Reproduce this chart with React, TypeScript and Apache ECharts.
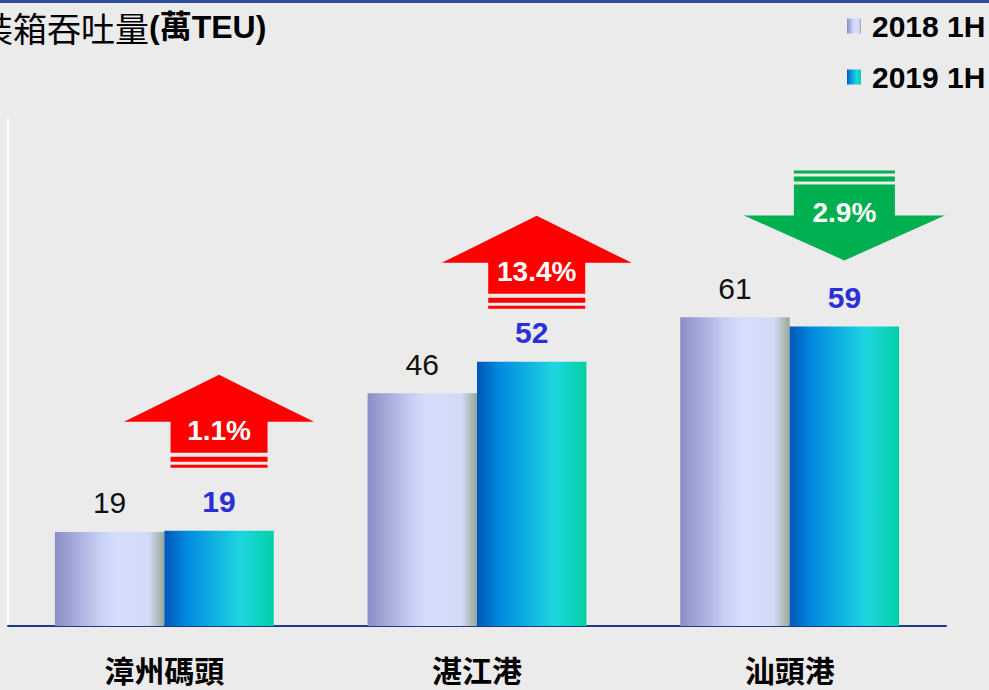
import React, { useEffect, useRef } from 'react';
import * as echarts from 'echarts';

const titleMain = '集裝箱吞吐量';
const titleUnit = '(萬TEU)';
const categories = ['漳州碼頭', '湛江港', '汕頭港'];
const seriesNames = ['2018 1H', '2019 1H'];
const values2018 = [18.6, 46, 61];
const values2019 = [18.8, 52.2, 59.2];
const changeLabels = ['1.1%', '13.4%', '2.9%'];
const changeDirections = [1, 1, -1];

const LATIN = 'Liberation Sans, Arial, "Noto Sans CJK TC", sans-serif';
const CJK = '"Noto Sans CJK TC", "Noto Sans CJK SC", sans-serif';

export default function App() {
  const ref = useRef<HTMLDivElement>(null);

  useEffect(() => {
    if (!ref.current) return;
    const chart = echarts.init(ref.current, null, { renderer: 'svg' });

    const grad2018 = new echarts.graphic.LinearGradient(0, 0, 1, 0, [
      { offset: 0, color: '#8a8dc5' },
      { offset: 0.4, color: '#c6cef3' },
      { offset: 0.55, color: '#d5defc' },
      { offset: 0.86, color: '#d2daf6' },
      { offset: 1, color: '#96a796' },
    ]);
    const grad2019 = new echarts.graphic.LinearGradient(0, 0, 1, 0, [
      { offset: 0, color: '#0056b6' },
      { offset: 0.2, color: '#0089e0' },
      { offset: 0.7, color: '#1fd5e0' },
      { offset: 1, color: '#02d0a6' },
    ]);

    const option: any = {
      animation: false,
      backgroundColor: '#ebebeb',
      grid: { left: 8, right: 43, top: 120, bottom: 64 },
      legend: {
        orient: 'vertical',
        left: 847,
        top: 11,
        padding: 0,
        itemWidth: 14,
        itemHeight: 15,
        itemGap: 21,
        icon: 'rect',
        data: seriesNames,
        textStyle: {
          fontSize: 30,
          fontWeight: 'bold',
          color: '#000',
          fontFamily: LATIN,
          padding: [0, 0, 0, 6],
        },
      },
      xAxis: {
        type: 'category',
        data: categories,
        axisLine: { show: true, lineStyle: { color: '#1f3a8a', width: 2 } },
        axisTick: { show: false },
        axisLabel: {
          fontSize: 30,
          fontWeight: 'bold',
          color: '#000',
          fontFamily: CJK,
          margin: 28,
        },
      },
      yAxis: {
        type: 'value',
        min: 0,
        max: 100,
        axisLine: { show: true, lineStyle: { color: '#ffffff', width: 2 } },
        axisTick: { show: false },
        axisLabel: { show: false },
        splitLine: { show: false },
      },
      graphic: [
        {
          type: 'rect',
          left: 0,
          top: 0,
          shape: { width: 989, height: 3 },
          style: { fill: '#2c4b9b' },
          silent: true,
        },
        {
          type: 'text',
          x: -55,
          y: 10,
          style: {
            text: `{a|${titleMain}}{b|${titleUnit}}`,
            verticalAlign: 'top',
            rich: {
              a: { fontSize: 34, fontFamily: CJK, color: '#111', fontWeight: 'normal' },
              b: { fontSize: 32, fontFamily: LATIN, color: '#111', fontWeight: 'bold' },
            },
          },
          silent: true,
        },
      ],
      series: [
        {
          name: seriesNames[0],
          type: 'bar',
          data: values2018,
          barGap: '0%',
          barCategoryGap: '30%',
          itemStyle: { color: grad2018 },
          label: {
            show: true,
            position: 'top',
            distance: 14,
            fontSize: 30,
            color: '#111',
            fontFamily: LATIN,
            formatter: (p: any) => String(Math.round(p.value)),
          },
        },
        {
          name: seriesNames[1],
          type: 'bar',
          data: values2019,
          barGap: '0%',
          barCategoryGap: '30%',
          itemStyle: { color: grad2019 },
          label: {
            show: true,
            position: 'top',
            distance: 14,
            fontSize: 30,
            fontWeight: 'bold',
            color: '#2b2fd8',
            fontFamily: LATIN,
            formatter: (p: any) => String(Math.round(p.value)),
          },
        },
        {
          name: 'change',
          type: 'custom',
          silent: true,
          z: 5,
          data: categories.map((_, i) => [i, values2019[i]]),
          renderItem: (params: any, api: any) => {
            const i = params.dataIndex;
            const pt = api.coord([api.value(0), api.value(1)]);
            const band = api.size([1, 0])[0];
            const cx = pt[0] + (band * 0.35) / 2 + (i === 1 ? 5 : 0);
            const top = pt[1] - (i === 1 ? 146 : 156);
            const up = changeDirections[i] > 0;
            const color = up ? '#ff0000' : '#00b050';
            const textStyle = {
              text: changeLabels[i],
              fill: '#ffffff',
              fontSize: 28,
              fontWeight: 'bold',
              fontFamily: LATIN,
              align: 'center',
              verticalAlign: 'middle',
            };
            const children: any[] = [];
            if (up) {
              const hw = 95;
              const sw = 48.5;
              children.push({
                type: 'polygon',
                shape: {
                  points: [
                    [cx, top],
                    [cx + hw, top + 47],
                    [cx + sw, top + 47],
                    [cx + sw, top + 78],
                    [cx - sw, top + 78],
                    [cx - sw, top + 47],
                    [cx - hw, top + 47],
                  ],
                },
                style: { fill: color },
              });
              children.push({ type: 'rect', shape: { x: cx - sw, y: top + 82, width: sw * 2, height: 5 }, style: { fill: color } });
              children.push({ type: 'rect', shape: { x: cx - sw, y: top + 90, width: sw * 2, height: 3 }, style: { fill: color } });
              children.push({ type: 'text', x: cx, y: top + 56, style: textStyle });
            } else {
              const hw = 100.5;
              const sw = 50.5;
              children.push({ type: 'rect', shape: { x: cx - sw, y: top, width: sw * 2, height: 3 }, style: { fill: color } });
              children.push({ type: 'rect', shape: { x: cx - sw, y: top + 6, width: sw * 2, height: 5 }, style: { fill: color } });
              children.push({
                type: 'polygon',
                shape: {
                  points: [
                    [cx - sw, top + 14],
                    [cx + sw, top + 14],
                    [cx + sw, top + 45],
                    [cx + hw, top + 45],
                    [cx, top + 90],
                    [cx - hw, top + 45],
                    [cx - sw, top + 45],
                  ],
                },
                style: { fill: color },
              });
              children.push({ type: 'text', x: cx, y: top + 42, style: textStyle });
            }
            return { type: 'group', children };
          },
        },
      ],
    };

    chart.setOption(option);
    return () => chart.dispose();
  }, []);

  return (
    <div
      ref={ref}
      style={{ position: 'fixed', left: 0, top: 0, width: 989, height: 690 }}
    />
  );
}
